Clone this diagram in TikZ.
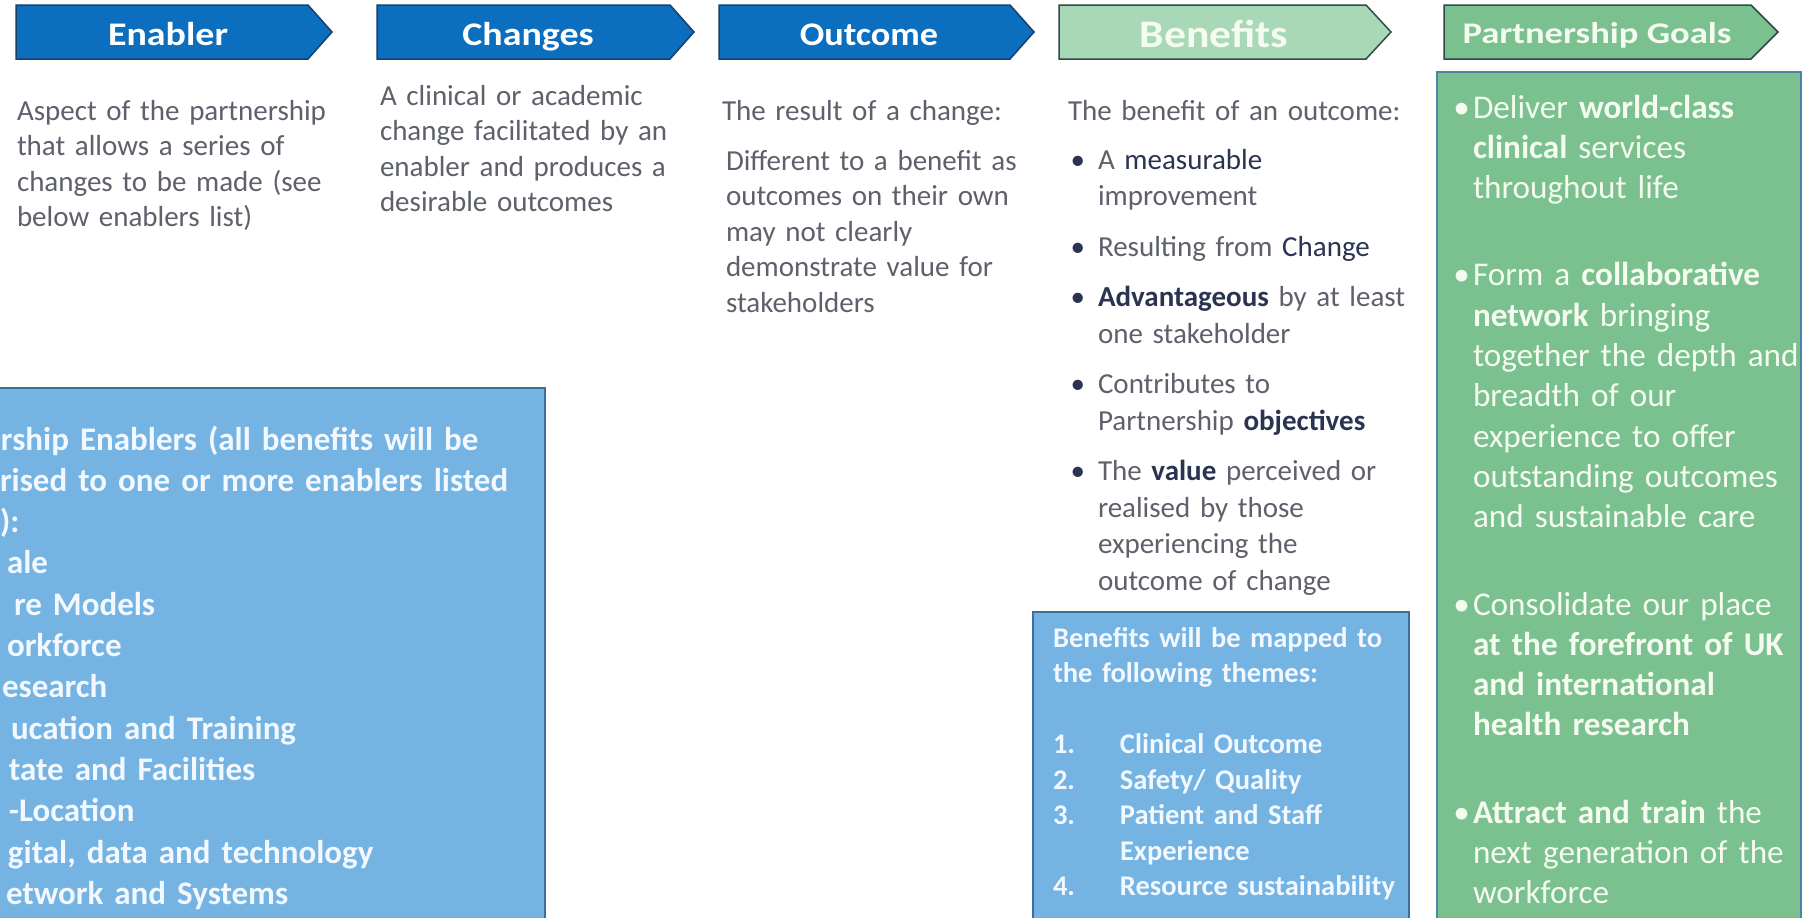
\documentclass[tikz,border=0pt]{standalone}
\usepackage{fontspec}
\setmainfont{Carlito}
\usepackage{graphicx}
\definecolor{arrowblue}{HTML}{0B6EBF}
\definecolor{arrowedge}{HTML}{1B3F66}
\definecolor{benefitfill}{HTML}{A8D8B6}
\definecolor{goalfill}{HTML}{7BC08F}
\definecolor{greenedge}{HTML}{2E4A4A}
\definecolor{goalboxedge}{HTML}{4A86A8}
\definecolor{boxblue}{HTML}{74B3E2}
\definecolor{boxedge}{HTML}{3D6E9E}
\definecolor{bodytxt}{HTML}{5E616C}
\definecolor{strongtxt}{HTML}{2A3350}
\definecolor{palegreen}{HTML}{F4FBEF}
\definecolor{paleblue}{HTML}{F2F8FF}
\newcommand\bul{\leavevmode\llap{\textcolor{strongtxt}{•}\hskip 13pt}}
\newcommand\gbul{\leavevmode\llap{•\hskip 3pt}}
\newcommand\numcol[1]{\leavevmode\makebox[67pt][l]{#1}}
\tikzset{
  bluearrow/.style={fill=arrowblue, draw=arrowedge, line width=1.5pt, line join=miter},
  greenarrow/.style={draw=greenedge, line width=1.5pt, line join=miter},
  arrowlab/.style={anchor=base, inner sep=0pt, outer sep=0pt, text=white, font=\bfseries\fontsize{33}{40}\selectfont},
  para/.style={inner sep=0pt, outer sep=0pt, anchor=north west, align=left, text width=600pt},
  bodyfont/.style={font=\fontsize{29}{35.5}\selectfont, text=bodytxt},
  bulletfont/.style={font=\fontsize{29}{36.5}\selectfont, text=bodytxt},
  bluebox/.style={fill=boxblue, draw=boxedge, line width=1.2pt},
  goalbox/.style={fill=goalfill, draw=goalboxedge, line width=1.2pt},
}
\begin{document}
\begin{tikzpicture}[x=1pt,y=-1pt]
\useasboundingbox (0,0) rectangle (1804,918);
\fill[white] (0,0) rectangle (1804,918);
\clip (0,0) rectangle (1804,918);

% header chevrons
\draw[bluearrow] (16,5) -- (308,5) -- (332,32) -- (308,59) -- (16,59) -- cycle;
\draw[bluearrow] (377,5) -- (670,5) -- (694,32) -- (670,59) -- (377,59) -- cycle;
\draw[bluearrow] (719,5) -- (1010,5) -- (1034,32) -- (1010,59) -- (719,59) -- cycle;
\draw[greenarrow, fill=benefitfill] (1059,5) -- (1366,5) -- (1391,32) -- (1366,59) -- (1059,59) -- cycle;
\draw[greenarrow, fill=goalfill] (1444,5) -- (1751,5) -- (1778,32) -- (1751,59) -- (1444,59) -- cycle;

\node[arrowlab] (tEnabler) at (168,45) {\scalebox{1.15}[1]{Enabler}};
\node[arrowlab] (tChanges) at (528,45) {\scalebox{1.15}[1]{Changes}};
\node[arrowlab] (tOutcome) at (869,45) {\scalebox{1.1}[1]{Outcome}};
\node[arrowlab, text=palegreen, font=\bfseries\fontsize{39}{46}\selectfont] (tBenefits) at (1214,47) {\scalebox{1.12}[1]{Benefits}};
\node[arrowlab, text=palegreen, font=\bfseries\fontsize{30}{36}\selectfont] (tGoals) at (1597,43) {\scalebox{1.22}[1]{Partnership Goals}};

% column descriptions
\node[para, bodyfont] (dEnabler) at (17,95.15) {\strut Aspect of the partnership\\that allows a series of\\changes to be made (see\\below enablers list)};
\node[para, bodyfont] (dChanges) at (380,80.15) {\strut A clinical or academic\\change facilitated by an\\enabler and produces a\\desirable outcomes};
\node[para, bodyfont] (dOutcomeA) at (722,95.15) {\strut The result of a change:};
\node[para, bodyfont] (dOutcomeB) at (726,145.15) {\strut Different to a benefit as\\outcomes on their own\\may not clearly\\demonstrate value for\\stakeholders};
\node[para, bodyfont] (dBenefitA) at (1068,95.15) {\strut The benefit of an outcome:};
\node[para, bulletfont] (dBenefitB) at (1098,143.45) {\strut\bul A {\color{strongtxt}measurable}\\
improvement\\[14pt]
\bul Resulting from {\color{strongtxt}Change}\\[14pt]
\bul {\bfseries\color{strongtxt}Advantageous} by at least\\
one stakeholder\\[14pt]
\bul Contributes to\\
Partnership {\bfseries\color{strongtxt}objectives}\\[14pt]
\bul The {\bfseries\color{strongtxt}value} perceived or\\
realised by those\\
experiencing the\\
outcome of change};

% enablers list box
\draw[bluebox] (-5,388) rectangle (545,930);
\node[para, text=paleblue, font=\bfseries\fontsize{33}{41.3}\selectfont] (enablersList) at (0,421.09) {\strut\hspace*{1pt}rship Enablers (all benefits will be\\
rised to one or more enablers listed\\
):\\
\hspace*{7pt}ale\\
\hspace*{14pt}re Models\\
\hspace*{7pt}orkforce\\
\hspace*{2pt}esearch\\
\hspace*{11pt}ucation and Training\\
\hspace*{9pt}tate and Facilities\\
\hspace*{9pt}-Location\\
\hspace*{8pt}gital, data and technology\\
\hspace*{6pt}etwork and Systems};

% themes box
\draw[bluebox] (1033,612) rectangle (1409,930);
\node[para, text=paleblue, font=\bfseries\fontsize{28.5}{35.5}\selectfont] (themes) at (1053,622.15) {\strut Benefits will be mapped to\\
the following themes:\\[35.5pt]
\numcol{1.}Clinical Outcome\\
\numcol{2.}Safety/ Quality\\
\numcol{3.}Patient and Staff\\
\numcol{}Experience\\
\numcol{4.}Resource sustainability};

% partnership goals box
\draw[goalbox] (1437,72) rectangle (1801,930);
\node[para, text=palegreen, font=\fontsize{33.2}{40.3}\selectfont] (goals) at (1473,89.79) {\strut\gbul Deliver \textbf{world-class}\\
\textbf{clinical} services\\
throughout life\\[47pt]
\gbul Form a \textbf{collaborative}\\
\textbf{network} bringing\\
together the depth and\\
breadth of our\\
experience to offer\\
outstanding outcomes\\
and sustainable care\\[47pt]
\gbul Consolidate our place\\
\textbf{at the forefront of UK}\\
\textbf{and international}\\
\textbf{health research}\\[47pt]
\gbul \textbf{Attract and train} the\\
next generation of the\\
workforce};
\end{tikzpicture}
\end{document}
